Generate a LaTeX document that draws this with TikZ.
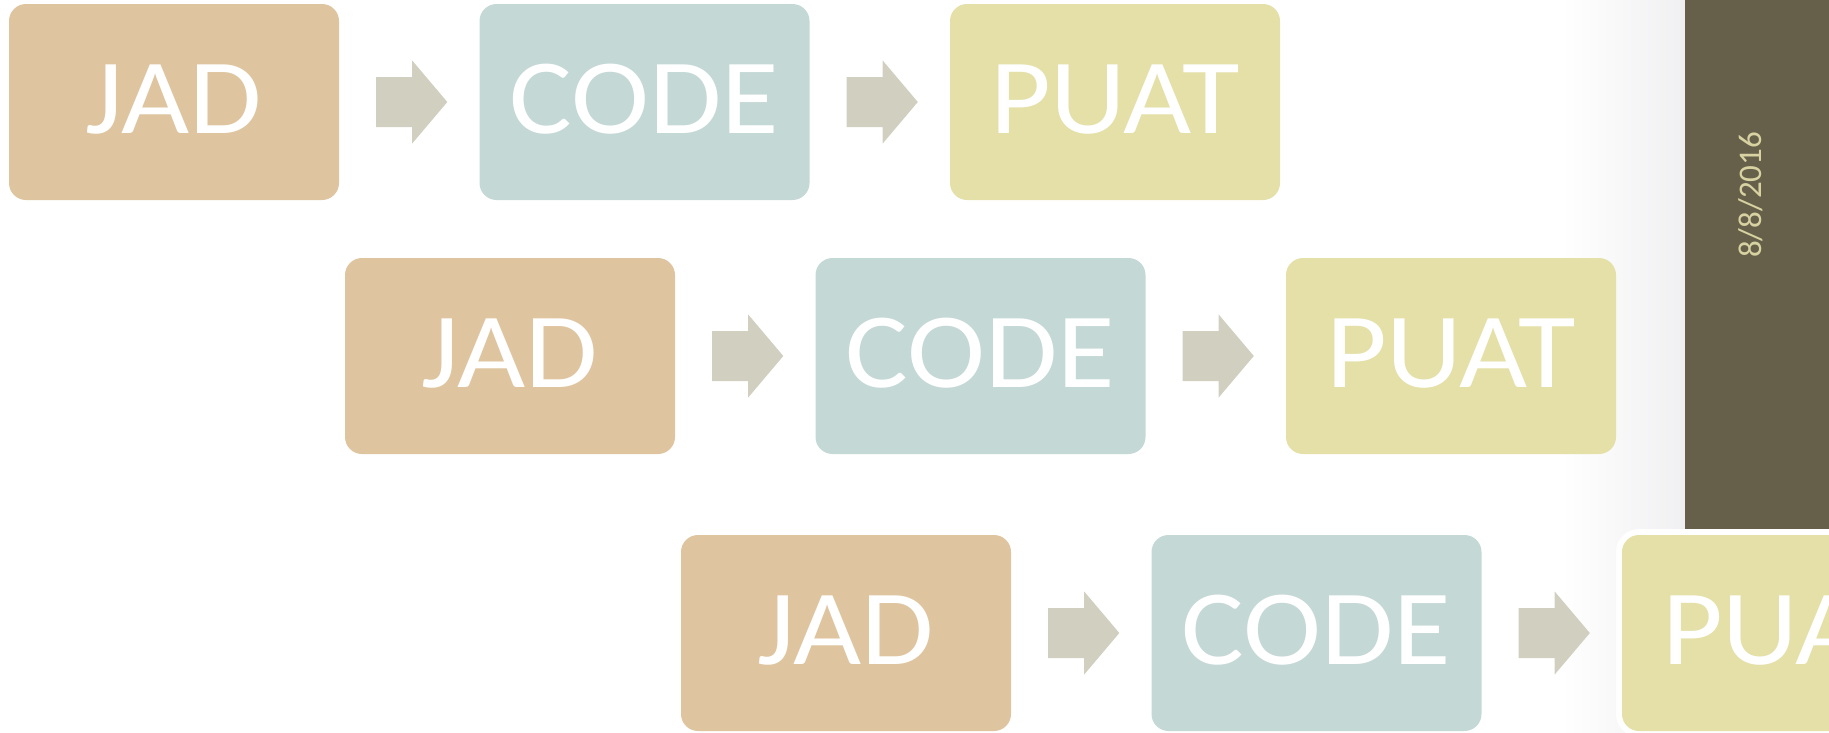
\documentclass[tikz,border=0pt]{standalone}
\usepackage{fontspec}
\setmainfont{Carlito}
\newfontfamily\boxfont[FakeStretch=1.1]{Carlito}
\usetikzlibrary{calc}
\definecolor{jadc}{HTML}{DFC59F}
\definecolor{codec}{HTML}{C4D8D6}
\definecolor{puatc}{HTML}{E4E0A8}
\definecolor{arrc}{HTML}{D1CFBF}
\definecolor{barc}{HTML}{665F4A}
\definecolor{datec}{HTML}{D8D2A2}
\definecolor{shadec}{HTML}{F0F0F2}
\newcommand\flowarrow[2]{%
  \fill[arrc] ($(#1.east)+(37,-25)$) -- ($(#1.east)+(73,-25)$) -- ($(#1.east)+(73,-41.5)$)
    -- ($(#2.west)+(-32,0)$) -- ($(#1.east)+(73,41.5)$) -- ($(#1.east)+(73,25)$)
    -- ($(#1.east)+(37,25)$) -- cycle;}
\begin{document}
\begin{tikzpicture}[x=1pt,y=-1pt,
  blk/.style={rectangle, rounded corners=17pt,
    minimum width=330pt, minimum height=196pt, inner sep=0pt, text=white,
    font=\boxfont\fontsize{107}{107}\selectfont, text depth=6pt},
  jad/.style={blk, fill=jadc},
  code/.style={blk, fill=codec},
  puat/.style={blk, fill=puatc},
  ringed/.style={double=white, draw=white, line width=6pt, double distance=0pt}]
\useasboundingbox (0,0) rectangle (1829,732);
\shade[left color=white, right color=shadec] (1560,0) rectangle (1685,732);
\fill[barc] (1685,0) rectangle (1829,529);
\node[rotate=90, text=datec, inner sep=0pt, font=\fontsize{33}{33}\selectfont] (date) at (1751,195) {8/8/2016};
% row 1
\node[jad] (j1) at (174,102) {JAD};
\node[code] (c1) at (644.5,102) {CODE};
\node[puat] (p1) at (1115,102) {PUAT};
% row 2
\node[jad] (j2) at (510,356) {JAD};
\node[code] (c2) at (980.5,356) {CODE};
\node[puat] (p2) at (1451,356) {PUAT};
% row 3
\node[jad] (j3) at (846,633) {JAD};
\node[code] (c3) at (1316.5,633) {CODE};
\fill[white, rounded corners=23pt] (1616,529) rectangle (1835,737);
\node[puat] (p3) at (1787,633) {PUAT};
\flowarrow{j1}{c1}
\flowarrow{c1}{p1}
\flowarrow{j2}{c2}
\flowarrow{c2}{p2}
\flowarrow{j3}{c3}
\flowarrow{c3}{p3}
\end{tikzpicture}
\end{document}
